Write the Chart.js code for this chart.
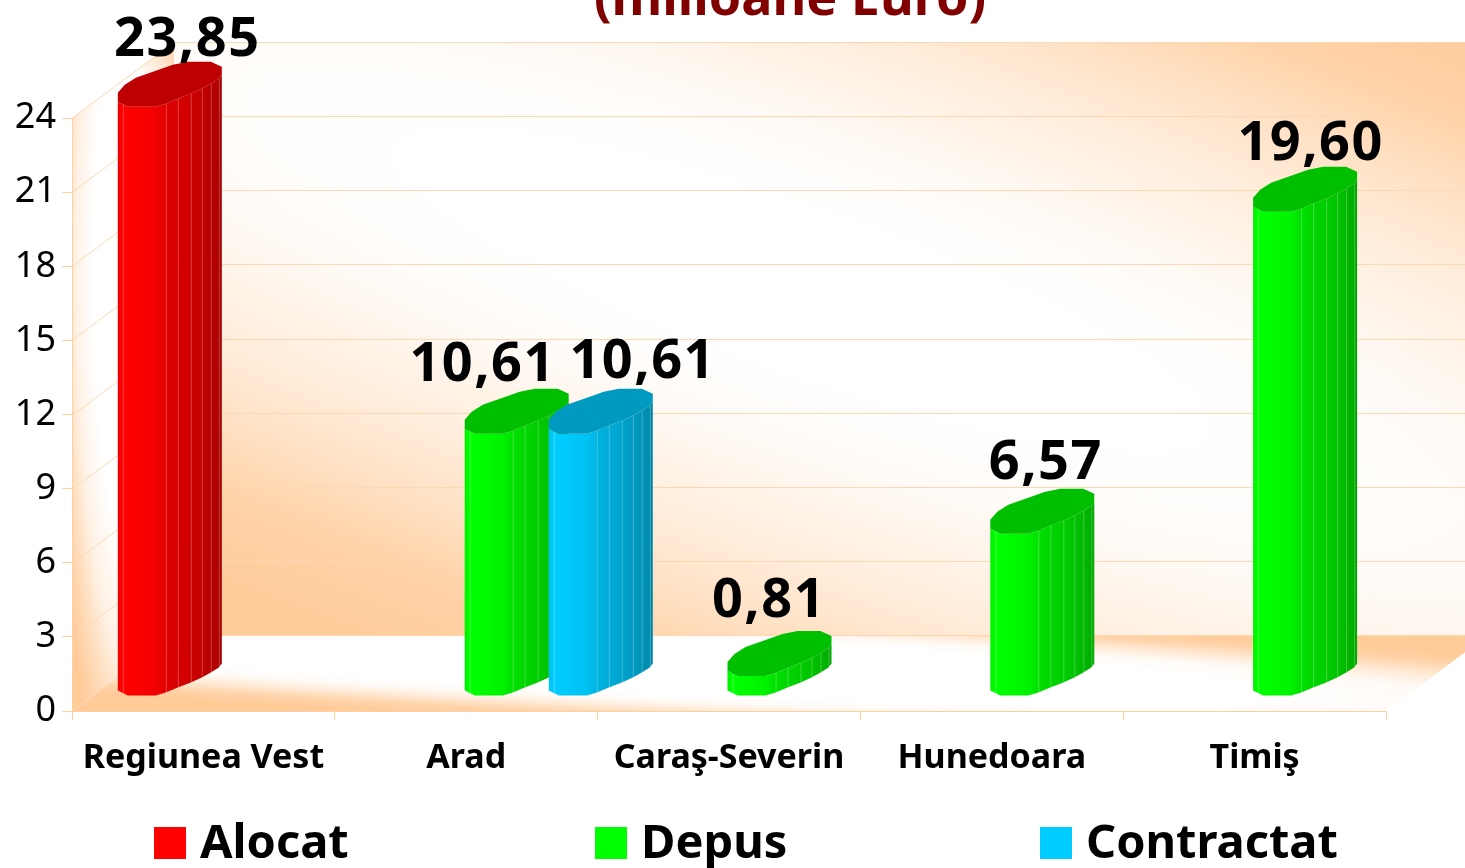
<!DOCTYPE html>
<html>
<head>
<meta charset="utf-8">
<title>Alocat Depus Contractat</title>
<script src="https://cdn.jsdelivr.net/npm/chart.js@4/dist/chart.umd.min.js"></script>
<style>
  html, body { margin: 0; padding: 0; background: #fff; overflow: hidden; }
  canvas { display: block; }
</style>
</head>
<body>
<canvas id="myChart" width="1465" height="868"></canvas>
<script>
const categories = ["Regiunea Vest", "Arad", "Caraş-Severin", "Hunedoara", "Timiş"];
const alocat = [23.85, null, null, null, null];
const depus = [null, 10.61, 0.81, 6.57, 19.6];
const contractat = [null, 10.61, null, null, null];
const yTicks = [0, 3, 6, 9, 12, 15, 18, 21, 24];
const titleText = "(milioane Euro)";

const fontName = "'Noto Sans', sans-serif";
const peach = [255, 203, 153];
const lineColor = "#ffd8b2";

// depth of the fake 3d box
const depthX = 102;
const depthY = -76;
const liftY = -15;

// outline of the front of a column, from its left edge
const frontDx = [0, 5, 10, 38, 48, 60, 73, 84, 93, 101, 104];
const frontDy = [-5, -2.5, 0, 0, -3, -8, -13, -18, -23, -28, -32];
const backDx = [104, 93, 70, 55, 38, 18, 7, 0];
const backDy = [-40, -45, -45, -42, -36, -29, -22, -14];

// hand placed value labels, one per dataset
const labelDx = [[68], [0, 16.4, 40, 54, 56], [0, 92.4]];
const labelDy = [[51], [0, 53, 59, 55, 52], [0, 56]];

const legendX = [154, 595, 1040];

function peachAt(a) {
  return `rgba(${peach[0]},${peach[1]},${peach[2]},${a})`;
}

function shade(rgb, f) {
  return `rgb(${Math.round(rgb[0] * f)},${Math.round(rgb[1] * f)},${Math.round(rgb[2] * f)})`;
}

function fillEllipseGradient(ctx, path, m, stops) {
  ctx.save();
  path();
  ctx.clip();
  ctx.transform(m[0], m[1], m[2], m[3], m[4], m[5]);
  const g = ctx.createRadialGradient(0, 0, 0, 0, 0, 2);
  stops.forEach((s) => g.addColorStop(s[0] / 2, peachAt(s[1])));
  ctx.fillStyle = g;
  ctx.fillRect(-20, -20, 40, 40);
  ctx.restore();
}

const boxPlugin = {
  id: "box",
  beforeDraw(chart) {
    const ctx = chart.ctx;
    const { left, right } = chart.chartArea;
    const yScale = chart.scales.y;
    const y0 = yScale.getPixelForValue(0);
    const yTop = yScale.getPixelForValue(24);

    ctx.fillStyle = "#fff";
    ctx.fillRect(0, 0, chart.width, chart.height);

    const poly = (pts) => () => {
      ctx.beginPath();
      pts.forEach((p, i) => (i ? ctx.lineTo(p[0], p[1]) : ctx.moveTo(p[0], p[1])));
      ctx.closePath();
    };

    // back wall
    fillEllipseGradient(
      ctx,
      poly([[left + depthX, yTop + depthY], [right + depthX, yTop + depthY], [right + depthX, y0 + depthY], [left + depthX, y0 + depthY]]),
      [2400, 800, 0, 520, 800, 290],
      [[0, 0], [0.15, 0], [0.3, 0.08], [0.5, 0.32], [0.65, 0.55], [0.8, 0.85], [1, 1], [2, 1]]
    );
    // left wall
    const leftWall = poly([[left, yTop], [left + depthX, yTop + depthY], [left + depthX, y0 + depthY], [left, y0]]);
    fillEllipseGradient(
      ctx,
      leftWall,
      [65, 0, 0, 440, 135, 270],
      [[0, 0], [0.65, 0], [0.9, 0.25], [1.05, 0.6], [1.25, 1], [2, 1]]
    );
    const corner = ctx.createLinearGradient(left + depthX, yTop + depthY, left + depthX - 34, yTop + depthY + 34);
    corner.addColorStop(0, peachAt(0.9));
    corner.addColorStop(1, peachAt(0));
    leftWall();
    ctx.fillStyle = corner;
    ctx.fill();
    // floor
    fillEllipseGradient(
      ctx,
      poly([[left, y0], [right, y0], [right + depthX, y0 + depthY], [left + depthX, y0 + depthY]]),
      [900, 41, 0, 40, 650, 664.5],
      [[0, 0], [0.7, 0], [0.9, 0.1], [1.1, 0.45], [1.3, 0.85], [1.5, 1], [2, 1]]
    );

    // grid on the walls
    ctx.strokeStyle = lineColor;
    ctx.lineWidth = 1;
    yTicks.forEach((v) => {
      const y = Math.round(yScale.getPixelForValue(v)) + 0.5;
      ctx.beginPath();
      ctx.moveTo(left, y);
      ctx.lineTo(left + depthX, y + depthY);
      ctx.lineTo(right + depthX, y + depthY);
      ctx.stroke();
    });
  },
  beforeDatasetsDraw(chart) {
    const ctx = chart.ctx;
    chart.data.datasets.forEach((ds, di) => {
      const meta = chart.getDatasetMeta(di);
      meta.data.forEach((el, i) => {
        if (ds.data[i] == null) return;
        drawColumn(ctx, el.x - 1.5, el.y + liftY, el.base + liftY, ds.rgb);
        ctx.font = `bold 54px ${fontName}`;
        ctx.letterSpacing = "1.5px";
        ctx.textAlign = "center";
        ctx.textBaseline = "alphabetic";
        ctx.fillStyle = "#000";
        ctx.fillText(ds.data[i].toFixed(2).replace(".", ","), el.x + labelDx[di][i], el.y + liftY - labelDy[di][i]);
        ctx.letterSpacing = "0px";
      });
    });
    return false;
  },
  afterDraw(chart) {
    const ctx = chart.ctx;
    ctx.textBaseline = "alphabetic";
    // title sits partly above the page, as in the source slide
    ctx.font = `bold 52px ${fontName}`;
    ctx.textAlign = "center";
    ctx.fillStyle = "#800000";
    ctx.fillText(titleText, 790, 15);

    // legend
    ctx.font = `bold 47px ${fontName}`;
    ctx.textAlign = "left";
    chart.data.datasets.forEach((ds, di) => {
      ctx.fillStyle = ds.backgroundColor;
      ctx.fillRect(legendX[di], 827, 32, 32);
      ctx.fillStyle = "#000";
      ctx.fillText(ds.label, legendX[di] + 46, 858);
    });
  },
};

function drawColumn(ctx, x, top, bottom, rgb) {
  const n = frontDx.length;
  const grad = ctx.createLinearGradient(x, 0, x + 104, 0);
  const shadeAt = [0.94, 1, 1, 0.95, 0.88, 0.84, 0.8, 0.76, 0.72, 0.68, 0.65];
  frontDx.forEach((dx, i) => grad.addColorStop(dx / 104, shade(rgb, shadeAt[i])));

  // side of the column
  ctx.beginPath();
  for (let i = 0; i < n; i++) ctx.lineTo(x + frontDx[i], bottom + frontDy[i]);
  for (let i = n - 1; i >= 0; i--) ctx.lineTo(x + frontDx[i], top + frontDy[i]);
  ctx.closePath();
  ctx.fillStyle = grad;
  ctx.fill();

  // facet lines
  ctx.strokeStyle = "rgba(255,255,255,0.25)";
  ctx.lineWidth = 1;
  [1, 4, 5, 6, 7, 8, 9].forEach((i) => {
    ctx.beginPath();
    ctx.moveTo(x + frontDx[i] + 0.5, top + frontDy[i]);
    ctx.lineTo(x + frontDx[i] + 0.5, bottom + frontDy[i]);
    ctx.stroke();
  });

  // cap
  ctx.beginPath();
  for (let i = 0; i < n; i++) ctx.lineTo(x + frontDx[i], top + frontDy[i]);
  backDx.forEach((dx, i) => ctx.lineTo(x + dx, top + backDy[i]));
  ctx.closePath();
  ctx.fillStyle = shade(rgb, 0.75);
  ctx.fill();
}

new Chart("myChart", {
  type: "bar",
  data: {
    labels: categories,
    datasets: [
      { label: "Alocat", data: alocat, backgroundColor: "#ff0000", rgb: [255, 0, 0] },
      { label: "Depus", data: depus, backgroundColor: "#00ff00", rgb: [0, 255, 0] },
      { label: "Contractat", data: contractat, backgroundColor: "#00ccff", rgb: [0, 204, 255] },
    ],
  },
  options: {
    responsive: false,
    animation: false,
    layout: { padding: { top: 118, right: 79, left: 0, bottom: 0 } },
    datasets: { bar: { categoryPercentage: 0.96, barPercentage: 1 } },
    plugins: { legend: { display: false }, title: { display: false }, tooltip: { enabled: false } },
    scales: {
      x: {
        afterFit(scale) { scale.height = 157; },
        grid: { drawOnChartArea: false, color: "#ffd0a0", tickLength: 9 },
        border: { color: "#ffd0a0" },
        ticks: {
          color: "#000",
          padding: 18,
          maxRotation: 0,
          font: { family: fontName, weight: "bold", size: 34 },
        },
      },
      y: {
        min: 0,
        max: 24,
        afterFit(scale) { scale.width = 72; },
        afterBuildTicks(scale) { scale.ticks = yTicks.map((v) => ({ value: v })); },
        grid: { drawOnChartArea: false, color: "#ffd0a0", tickLength: 10 },
        border: { color: "#ffd0a0" },
        ticks: {
          color: "#000",
          padding: 6,
          font: { family: fontName, size: 36 },
        },
      },
    },
  },
  plugins: [boxPlugin],
});
</script>
</body>
</html>
